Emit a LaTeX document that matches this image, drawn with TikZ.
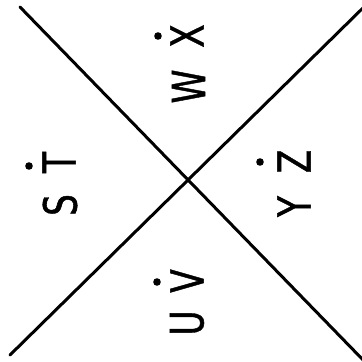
\documentclass[tikz,border=0pt]{standalone}
\usepackage{fontspec}
\setmainfont{DejaVu Sans}[FakeBold=1.2]
\begin{document}
\begin{tikzpicture}[x=1bp,y=-1bp,
  axisline/.style={line width=3bp,line cap=round,black},
  letter/.style={font=\fontsize{46}{46}\selectfont,inner sep=0pt,rotate=90,xscale=0.75},
  dotmark/.style={fill=black,draw=none}]
\useasboundingbox (0,0) rectangle (362,362);
\clip (0,0) rectangle (362,362);
\coordinate (a1) at (20,7);
\coordinate (a2) at (367,364);
\coordinate (b1) at (10,355);
\coordinate (b2) at (368,3);
\draw[axisline] (a1) -- (a2);
\draw[axisline] (b1) -- (b2);
% top
\node[letter] (W) at (188.5,86.5) {W};
\node[letter] (X) at (187,36) {X};
\fill[dotmark] (158,36) circle (3.8);
% left
\node[letter] (S) at (60,205) {S};
\node[letter] (T) at (59,162.5) {T};
\fill[dotmark] (29,166) circle (3.8);
% right
\node[letter] (Y) at (294,206.5) {Y};
\node[letter] (Z) at (294,161.5) {Z};
\fill[dotmark] (260,162) circle (3.8);
% bottom
\node[letter] (U) at (187,323) {U};
\node[letter] (V) at (187,281) {V};
\fill[dotmark] (157,282) circle (3.8);
\end{tikzpicture}
\end{document}
